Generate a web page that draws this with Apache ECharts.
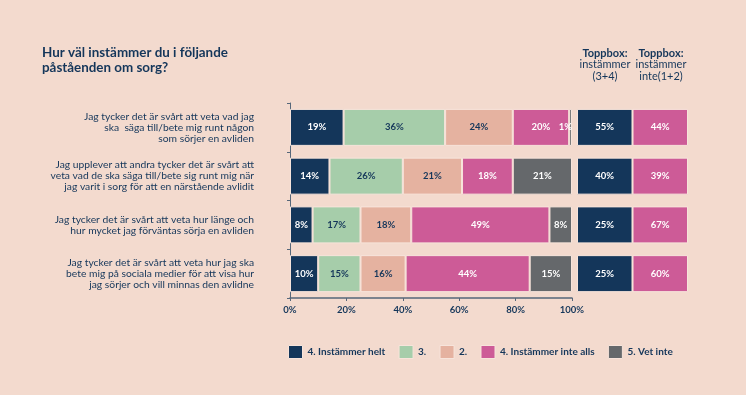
<!DOCTYPE html>
<html><head><meta charset="utf-8">
<script src="https://cdn.jsdelivr.net/npm/echarts@6/dist/echarts.min.js"></script>
<style>html,body{margin:0;padding:0;background:#f3dace;}#c{width:746px;height:395px;}</style>
</head><body><div id="c"></div>
<script>
const categories = [
  "Jag tycker det är svårt att veta vad jag\nska  säga till/bete mig runt någon\nsom sörjer en avliden",
  "Jag upplever att andra tycker det är svårt att\nveta vad de ska säga till/bete sig runt mig när\njag varit i sorg för att en närstående avlidit",
  "Jag tycker det är svårt att veta hur länge och\nhur mycket jag förväntas sörja en avliden",
  "Jag tycker det är svårt att veta hur jag ska\nbete mig på sociala medier för att visa hur\njag sörjer och vill minnas den avlidne"
];
const seriesNames = ["4. Instämmer helt", "3.", "2.", "4. Instämmer inte alls", "5. Vet inte"];
const helt = [19, 14, 8, 10];
const tre = [36, 26, 17, 15];
const two = [24, 21, 18, 16];
const inteAlls = [20, 18, 49, 44];
const vetInte = [1, 21, 8, 15];
const topAgree = [55, 40, 25, 25];
const topDisagree = [44, 39, 67, 60];
const xTicks = [0, 20, 40, 60, 80, 100];

const NAVY = '#14365a', GREEN = '#a6cdaa', SALMON = '#e5b2a0', PINK = '#cd5b97', GRAY = '#65686b';
const colors = [NAVY, GREEN, SALMON, PINK, GRAY];
const labelColors = ['#fff', NAVY, NAVY, '#fff', '#fff'];
const FONT = 'Lato';
const values = [helt, tre, two, inteAlls, vetInte];

const chart = echarts.init(document.getElementById('c'), null, {renderer: 'canvas'});
const mainSeries = seriesNames.map((n, i) => ({
  name: n, type: 'bar', stack: 'main', xAxisIndex: 0, yAxisIndex: 0,
  barWidth: 37,
  data: values[i].map(v => v < 3 ? {value: v, label: {position: 'insideRight', distance: 0}} : v),
  itemStyle: {color: colors[i], borderColor: '#f7e4db', borderWidth: 1},
  label: {show: true, position: 'inside', formatter: p => p.value + '%',
    color: labelColors[i], fontFamily: FONT, fontWeight: 'bold', fontSize: 9.5}
}));
const topSeries = [topAgree, topDisagree].map((arr, i) => ({
  name: i === 0 ? 'Toppbox: instämmer (3+4)' : 'Toppbox: instämmer inte(1+2)',
  type: 'bar', stack: 'top', xAxisIndex: 1, yAxisIndex: 1, barWidth: 37,
  data: arr.map(() => 1),
  itemStyle: {color: i === 0 ? NAVY : PINK, borderColor: '#f7e4db', borderWidth: 1},
  label: {show: true, position: 'inside', formatter: p => arr[p.dataIndex] + '%',
    color: '#fff', fontFamily: FONT, fontWeight: 'bold', fontSize: 9.5}
}));
const hdrStyle = {fontFamily: FONT, fontWeight: 'normal', fontSize: 11, color: NAVY, lineHeight: 11.5,
  rich: {b: {fontFamily: FONT, fontWeight: 'bold', fontSize: 11, color: NAVY, lineHeight: 11.5}}};

chart.setOption({
  backgroundColor: '#f3dace',
  textStyle: {fontFamily: FONT},
  title: [
    {text: 'Hur väl instämmer du i följande\npåståenden om sorg?', left: 42, top: 45, padding: 0,
     textStyle: {fontFamily: FONT, fontWeight: 'bold', fontSize: 13.4, color: NAVY, lineHeight: 15}},
    {text: '{b|Toppbox:}\ninstämmer\n(3+4)', left: 605, top: 47.5, padding: 0, textAlign: 'center', textStyle: hdrStyle},
    {text: '{b|Toppbox:}\ninstämmer\ninte(1+2)', left: 661, top: 47.5, padding: 0, textAlign: 'center', textStyle: hdrStyle}
  ],
  legend: {
    data: seriesNames, left: 288, top: 345, padding: 0, itemWidth: 14, itemHeight: 13, itemGap: 13.3,
    icon: 'rect', selectedMode: false,
    itemStyle: {borderColor: '#f7e4db', borderWidth: 1},
    textStyle: {fontFamily: FONT, fontWeight: 'bold', fontSize: 10, color: NAVY}
  },
  grid: [
    {left: 290, top: 103, width: 282, height: 195},
    {left: 577, top: 103, width: 111, height: 195}
  ],
  xAxis: [
    {type: 'value', gridIndex: 0, min: 0, max: 100, interval: 20,
     axisLine: {show: true, lineStyle: {color: '#56677a', width: 1.5}},
     axisTick: {show: true, length: 3, lineStyle: {color: '#56677a'}},
     splitLine: {show: false},
     axisLabel: {formatter: v => xTicks.includes(v) ? v + '%' : '', color: NAVY, fontFamily: FONT,
       fontWeight: 'bold', fontSize: 9.5, margin: 7}},
    {type: 'value', gridIndex: 1, min: 0, max: 2, show: false}
  ],
  yAxis: [
    {type: 'category', gridIndex: 0, data: categories, inverse: true,
     axisLine: {show: true, lineStyle: {color: '#56677a', width: 1}},
     axisTick: {show: true, length: 3, lineStyle: {color: '#56677a'}},
     axisLabel: {color: NAVY, fontFamily: FONT, fontSize: 10.3, lineHeight: 11, margin: 36, align: 'right'}},
    {type: 'category', gridIndex: 1, data: categories, inverse: true, show: false}
  ],
  series: mainSeries.concat(topSeries)
});
</script></body></html>
